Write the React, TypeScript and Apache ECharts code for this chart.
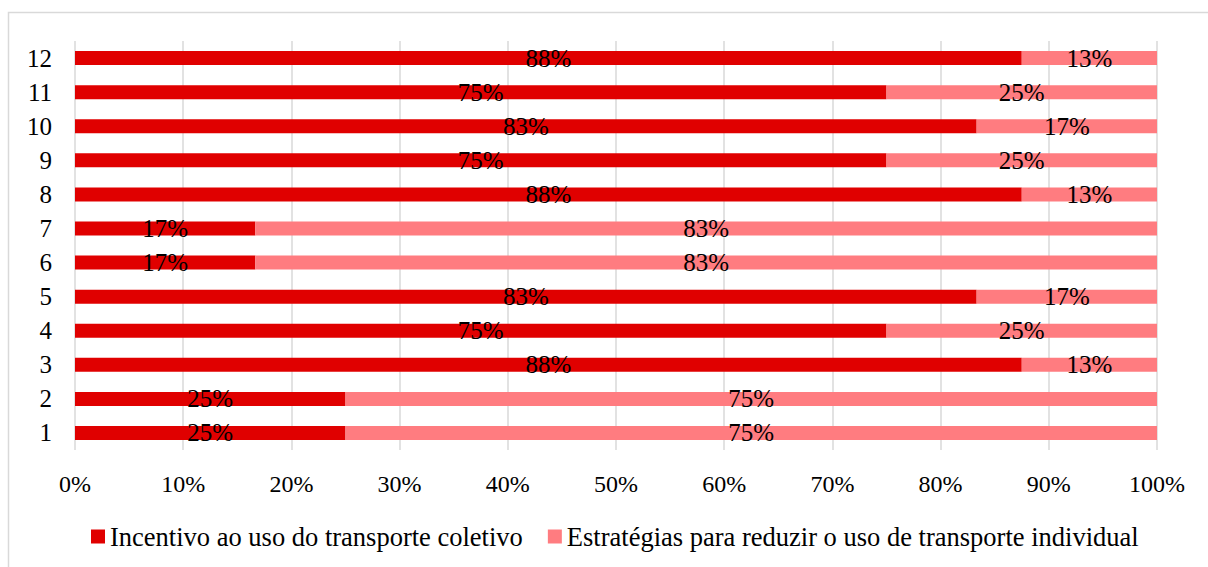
import React, { useEffect, useRef } from "react";
import * as echarts from "echarts";

const categories = ["1", "2", "3", "4", "5", "6", "7", "8", "9", "10", "11", "12"];
const coletivo = [25, 25, 87.5, 75, 83.33, 16.67, 16.67, 87.5, 75, 83.33, 75, 87.5];
const individual = [75, 75, 12.5, 25, 16.67, 83.33, 83.33, 12.5, 25, 16.67, 25, 12.5];
const seriesNames = [
  "Incentivo ao uso do transporte coletivo",
  "Estratégias para reduzir o uso de transporte individual",
];
const xTicks = { min: 0, max: 100, interval: 10 };

const FONT = "Liberation Serif, serif";

export default function App() {
  const ref = useRef<HTMLDivElement>(null);
  useEffect(() => {
    if (!ref.current) return;
    const chart = echarts.init(ref.current, undefined, { renderer: "svg" });
    const label = {
      show: true,
      position: "inside" as const,
      color: "#000",
      fontFamily: FONT,
      fontSize: 25,
      formatter: (p: any) => Math.round(p.value) + "%",
    };
    chart.setOption({
      animation: false,
      backgroundColor: "#fff",
      textStyle: { fontFamily: FONT },
      graphic: [
        {
          type: "rect",
          shape: { x: 8.5, y: 12.5, width: 1220, height: 600 },
          style: { fill: "none", stroke: "#d9d9d9", lineWidth: 1.5 },
          silent: true,
          z: -1,
        },
      ],
      grid: { left: 75, right: 51, top: 41, bottom: 117, containLabel: false },
      xAxis: {
        type: "value",
        min: xTicks.min,
        max: xTicks.max,
        interval: xTicks.interval,
        axisLine: { show: false },
        axisTick: { show: false },
        splitLine: { show: true, lineStyle: { color: "#d9d9d9", width: 1.5 } },
        axisLabel: {
          formatter: "{value}%",
          color: "#000",
          fontFamily: FONT,
          fontSize: 24,
          margin: 22,
        },
      },
      yAxis: {
        type: "category",
        data: categories,
        axisLine: { show: false },
        axisTick: { show: false },
        axisLabel: { color: "#000", fontFamily: FONT, fontSize: 25, margin: 23 },
      },
      legend: {
        left: 86,
        top: 518,
        padding: 5,
        itemWidth: 14,
        itemHeight: 14,
        itemGap: 25,
        icon: "rect",
        textStyle: { color: "#000", fontFamily: FONT, fontSize: 26.5 },
        data: seriesNames,
      },
      series: [
        {
          name: seriesNames[0],
          type: "bar",
          stack: "total",
          barWidth: 14,
          itemStyle: { color: "#E00000" },
          label,
          data: coletivo,
        },
        {
          name: seriesNames[1],
          type: "bar",
          stack: "total",
          barWidth: 14,
          itemStyle: { color: "#FF7C80" },
          label,
          data: individual,
        },
      ],
    });
    return () => chart.dispose();
  }, []);
  return (
    <div
      ref={ref}
      style={{ position: "fixed", left: 0, top: 0, width: 1208, height: 567 }}
    />
  );
}
